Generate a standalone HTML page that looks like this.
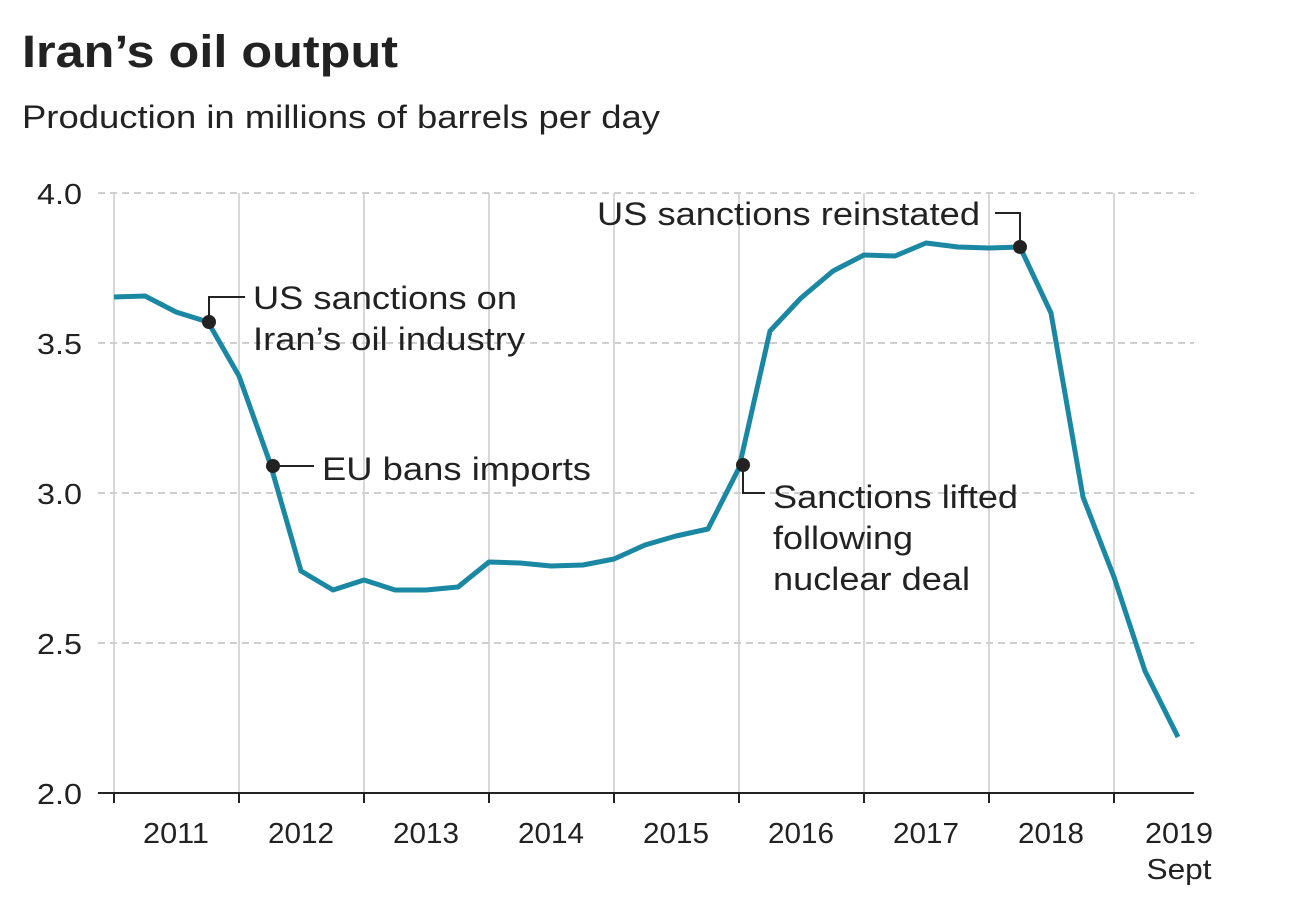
<!DOCTYPE html>
<html><head><meta charset="utf-8"><style>
html,body{margin:0;padding:0;background:#fff;}
svg{display:block;font-family:"Liberation Sans",Arial,sans-serif;}
</style></head><body>
<svg width="1292" height="900" viewBox="0 0 1292 900" xmlns="http://www.w3.org/2000/svg">
<rect width="1292" height="900" fill="#fff"/>
<text x="22" y="67" font-size="45" font-weight="bold" fill="#222" textLength="376" lengthAdjust="spacingAndGlyphs">Iran’s oil output</text>
<text x="22" y="128" font-size="32" fill="#222" textLength="638" lengthAdjust="spacingAndGlyphs">Production in millions of barrels per day</text>
<g stroke="#d8d8d8" stroke-width="2">
<line x1="114" y1="193" x2="114" y2="793"/><line x1="239" y1="193" x2="239" y2="793"/>
<line x1="364" y1="193" x2="364" y2="793"/><line x1="489" y1="193" x2="489" y2="793"/>
<line x1="614" y1="193" x2="614" y2="793"/><line x1="739" y1="193" x2="739" y2="793"/>
<line x1="864" y1="193" x2="864" y2="793"/><line x1="989" y1="193" x2="989" y2="793"/>
<line x1="1114" y1="193" x2="1114" y2="793"/>
</g>
<g stroke="#cfcfcf" stroke-width="2" stroke-dasharray="7,5">
<line x1="98" y1="193" x2="1194" y2="193"/><line x1="98" y1="343" x2="1194" y2="343"/>
<line x1="98" y1="493" x2="1194" y2="493"/><line x1="98" y1="643" x2="1194" y2="643"/>
</g>
<line x1="98" y1="793" x2="1194" y2="793" stroke="#222" stroke-width="2"/>
<g stroke="#222" stroke-width="2">
<line x1="114" y1="793" x2="114" y2="803"/><line x1="239" y1="793" x2="239" y2="803"/>
<line x1="364" y1="793" x2="364" y2="803"/><line x1="489" y1="793" x2="489" y2="803"/>
<line x1="614" y1="793" x2="614" y2="803"/><line x1="739" y1="793" x2="739" y2="803"/>
<line x1="864" y1="793" x2="864" y2="803"/><line x1="989" y1="793" x2="989" y2="803"/>
<line x1="1114" y1="793" x2="1114" y2="803"/>
</g>
<g font-size="29" fill="#222" text-anchor="end">
<text x="82" y="204" textLength="45" lengthAdjust="spacingAndGlyphs">4.0</text>
<text x="82" y="354" textLength="45" lengthAdjust="spacingAndGlyphs">3.5</text>
<text x="82" y="504" textLength="45" lengthAdjust="spacingAndGlyphs">3.0</text>
<text x="82" y="654" textLength="45" lengthAdjust="spacingAndGlyphs">2.5</text>
<text x="82" y="804" textLength="45" lengthAdjust="spacingAndGlyphs">2.0</text>
</g>
<g font-size="29" fill="#222" text-anchor="middle">
<text x="176" y="843" textLength="66" lengthAdjust="spacingAndGlyphs">2011</text>
<text x="301" y="843" textLength="66" lengthAdjust="spacingAndGlyphs">2012</text>
<text x="426" y="843" textLength="66" lengthAdjust="spacingAndGlyphs">2013</text>
<text x="551" y="843" textLength="66" lengthAdjust="spacingAndGlyphs">2014</text>
<text x="676" y="843" textLength="66" lengthAdjust="spacingAndGlyphs">2015</text>
<text x="801" y="843" textLength="66" lengthAdjust="spacingAndGlyphs">2016</text>
<text x="926" y="843" textLength="66" lengthAdjust="spacingAndGlyphs">2017</text>
<text x="1051" y="843" textLength="66" lengthAdjust="spacingAndGlyphs">2018</text>
<text x="1179" y="843" textLength="68" lengthAdjust="spacingAndGlyphs">2019</text>
<text x="1179" y="879" textLength="65" lengthAdjust="spacingAndGlyphs">Sept</text>
</g>
<polyline fill="none" stroke="#1a87a3" stroke-width="5" stroke-linejoin="round" points="114,297 145,296 176,312 208,322 239,376 270,463 301,571 333,590 364,580 395,590 426,590 458,587 489,562 520,563 551,566 583,565 614,559 645,545 676,536 708,529 739,468 770,331 801,298 833,271 864,255 895,256 926,243 958,247 989,248 1020,247 1051,313 1083,497 1114,577 1145,671 1178,737"/>
<g stroke="#222" stroke-width="2" fill="none">
<polyline points="209,322 209,297 245,297"/>
<line x1="273" y1="466" x2="314" y2="466"/>
<polyline points="743,465 743,493 765,493"/>
<polyline points="1020,247 1020,213 995,213"/>
</g>
<g fill="#222">
<circle cx="209" cy="322" r="7"/><circle cx="273" cy="466" r="7"/>
<circle cx="743" cy="465" r="7"/><circle cx="1020" cy="247" r="7"/>
</g>
<g font-size="32" fill="#222">
<text x="253" y="309" textLength="264" lengthAdjust="spacingAndGlyphs">US sanctions on</text>
<text x="253" y="350" textLength="272" lengthAdjust="spacingAndGlyphs">Iran’s oil industry</text>
<text x="322" y="480" textLength="269" lengthAdjust="spacingAndGlyphs">EU bans imports</text>
<text x="773" y="508" textLength="245" lengthAdjust="spacingAndGlyphs">Sanctions lifted</text>
<text x="773" y="549" textLength="140" lengthAdjust="spacingAndGlyphs">following</text>
<text x="773" y="590" textLength="197" lengthAdjust="spacingAndGlyphs">nuclear deal</text>
<text x="597" y="225" textLength="383" lengthAdjust="spacingAndGlyphs">US sanctions reinstated</text>
</g>
</svg>
</body></html>
